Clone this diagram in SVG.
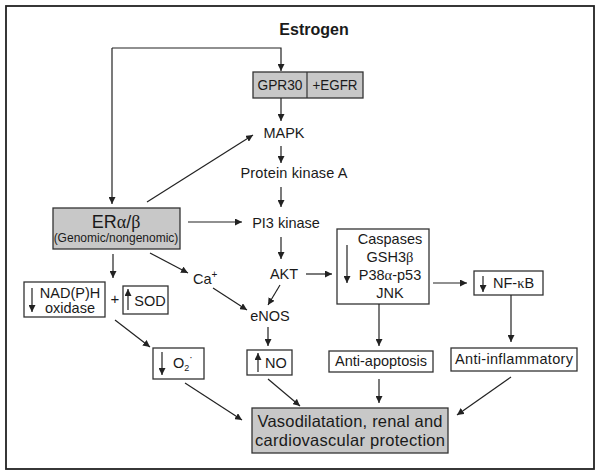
<svg xmlns="http://www.w3.org/2000/svg" width="601" height="476" viewBox="0 0 601 476">
<style>
text{font-family:"Liberation Sans",Arial,sans-serif;fill:#1a1a1a;font-size:14.5px}
.m{text-anchor:middle}
.box{fill:#fff;stroke:#333;stroke-width:1.3}
.gray{fill:#c8c8c8;stroke:#333;stroke-width:1.3}
.c{fill:none;stroke:#222;stroke-width:1.2;marker-end:url(#ah)}
.gr{font-family:"Liberation Serif","Times New Roman",serif}
</style>
<defs>
<marker id="ah" markerUnits="userSpaceOnUse" markerWidth="8" markerHeight="7" refX="7" refY="3.5" orient="auto">
<path d="M0,0 L7,3.5 L0,7 z" fill="#222"/>
</marker>
</defs>
<rect x="6" y="6" width="588" height="463" fill="#fff" stroke="#222" stroke-width="1.8"/>

<g id="estrogen"><text x="314" y="35" class="m" style="font-weight:bold;font-size:16px">Estrogen</text></g>

<g id="gpr30">
<rect x="253" y="72" width="110" height="26" class="gray"/>
<line x1="307" y1="72" x2="307" y2="98" stroke="#333" stroke-width="1.2"/>
<text x="280" y="90" class="m" style="font-size:14px" textLength="45" lengthAdjust="spacingAndGlyphs">GPR30</text>
<text x="335" y="90" class="m" style="font-size:14px" textLength="45" lengthAdjust="spacingAndGlyphs">+EGFR</text>
</g>

<g id="mapk"><text x="284" y="138" class="m">MAPK</text></g>
<g id="pka"><text x="294" y="178" class="m" textLength="107">Protein kinase A</text></g>
<g id="pi3k"><text x="286" y="228" class="m">PI3 kinase</text></g>
<g id="akt"><text x="284" y="279" class="m">AKT</text></g>
<g id="enos"><text x="270" y="321" class="m">eNOS</text></g>
<g id="ca"><text x="193" y="284">Ca<tspan dy="-6" font-size="10">+</tspan></text></g>

<g id="er">
<rect x="53" y="208" width="127" height="41" class="gray"/>
<text x="116" y="228" class="m" style="font-size:18px">ER<tspan class="gr">α</tspan>/<tspan class="gr">β</tspan></text>
<text x="116" y="242" class="m" style="font-size:12px">(Genomic/nongenomic)</text>
</g>

<g id="nadph">
<rect x="24" y="282" width="81" height="35" class="box"/>
<line x1="32" y1="288" x2="32" y2="312" class="c"/>
<text x="70" y="298" class="m">NAD(P)H</text>
<text x="70" y="313" class="m">oxidase</text>
</g>
<g id="plus"><text x="115" y="304" class="m" style="font-size:15px">+</text></g>
<g id="sod">
<rect x="123" y="286" width="45" height="28" class="box"/>
<line x1="128" y1="310" x2="128" y2="289" class="c"/>
<text x="150" y="306" class="m">SOD</text>
</g>

<g id="o2">
<rect x="153" y="348" width="51" height="31" class="box"/>
<line x1="162" y1="352" x2="162" y2="375" class="c"/>
<text x="173" y="368">O<tspan dy="3" font-size="9">2</tspan><tspan dy="-10" font-size="10">·</tspan></text>
</g>

<g id="no">
<rect x="247" y="350" width="45" height="25" class="box"/>
<line x1="258" y1="372" x2="258" y2="353" class="c"/>
<text x="265" y="368">NO</text>
</g>

<g id="caspases">
<rect x="337" y="229" width="92" height="75" class="box"/>
<line x1="347" y1="245" x2="347" y2="283" class="c"/>
<text x="390" y="244" class="m">Caspases</text>
<text x="390" y="262" class="m">GSH3<tspan class="gr">β</tspan></text>
<text x="390" y="280" class="m">P38<tspan class="gr">α</tspan>-p53</text>
<text x="390" y="298" class="m">JNK</text>
</g>

<g id="nfkb">
<rect x="474" y="271" width="69" height="24" class="box"/>
<line x1="483" y1="276" x2="483" y2="292" class="c"/>
<text x="493" y="288">NF-<tspan class="gr">κ</tspan>B</text>
</g>

<g id="antiapoptosis">
<rect x="329" y="351" width="104" height="21" class="box"/>
<text x="381" y="366" class="m">Anti-apoptosis</text>
</g>

<g id="antiinflammatory">
<rect x="451" y="348" width="126" height="23" class="box"/>
<text x="514" y="364" class="m" textLength="118">Anti-inflammatory</text>
</g>

<g id="vaso">
<rect x="252" y="408" width="196" height="45" class="gray"/>
<text x="350" y="427" class="m" style="font-size:16.5px" textLength="185">Vasodilatation, renal and</text>
<text x="350" y="446" class="m" style="font-size:16.5px" textLength="190">cardiovascular protection</text>
</g>

<g id="connectors">
<polyline points="112,48 281,48 281,71" class="c"/>
<line x1="112" y1="48" x2="112" y2="204" class="c"/>
<line x1="281" y1="98" x2="281" y2="121" class="c"/>
<line x1="147" y1="202" x2="253" y2="135" class="c"/>
<line x1="281" y1="146" x2="281" y2="163" class="c"/>
<line x1="281" y1="187" x2="281" y2="207" class="c"/>
<line x1="188" y1="222" x2="242" y2="222" class="c"/>
<line x1="281" y1="237" x2="281" y2="259" class="c"/>
<line x1="113" y1="254" x2="113" y2="278" class="c"/>
<line x1="150" y1="253" x2="188" y2="273" class="c"/>
<line x1="213" y1="288" x2="247" y2="310" class="c"/>
<line x1="280" y1="285" x2="268" y2="305" class="c"/>
<line x1="306" y1="274" x2="332" y2="274" class="c"/>
<line x1="268" y1="327" x2="268" y2="346" class="c"/>
<line x1="433" y1="283" x2="467" y2="283" class="c"/>
<line x1="511" y1="295" x2="511" y2="342" class="c"/>
<line x1="379" y1="304" x2="379" y2="346" class="c"/>
<line x1="379" y1="379" x2="379" y2="403" class="c"/>
<line x1="511" y1="377" x2="457" y2="415" class="c"/>
<line x1="115" y1="320" x2="150" y2="347" class="c"/>
<line x1="185" y1="383" x2="242" y2="420" class="c"/>
<line x1="268" y1="379" x2="300" y2="406" class="c"/>
</g>
</svg>
